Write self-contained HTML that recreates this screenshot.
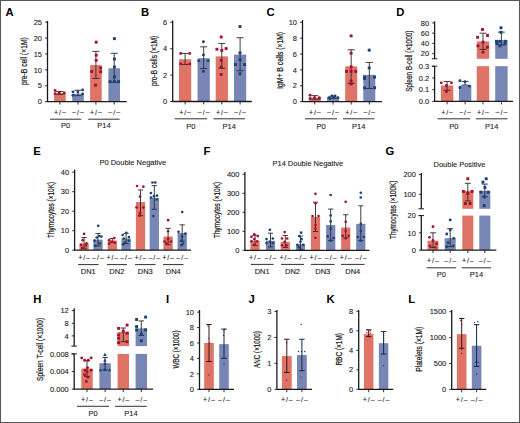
<!DOCTYPE html><html><head><meta charset="utf-8"><style>html,body{margin:0;padding:0;background:#fff;}svg{display:block;}text{font-family:"Liberation Sans", sans-serif;stroke:#1a1a1a;stroke-width:0.1px;}.pl{stroke:none;}.yt{stroke-width:0.22px;}</style></head><body>
<div id="w"><svg width="520" height="423" viewBox="0 0 520 423">
<rect x="0" y="0" width="520" height="423" fill="#fff"/>
<text x="5.6" y="15.6" font-size="11.3" text-anchor="start" font-weight="bold" fill="#000" class="pl">A</text>
<text class="yt" transform="translate(27.4,85.1) rotate(-90)" x="0" y="0" font-size="8.7" text-anchor="start" fill="#1a1a1a" textLength="47.9" lengthAdjust="spacingAndGlyphs">pre-B cell (×1M)</text>
<rect x="54.1" y="93.1" width="11.6" height="8.6" fill="#df7466"/>
<rect x="72.2" y="93.74" width="11.6" height="7.96" fill="#7786b4"/>
<rect x="90.1" y="65.08" width="11.6" height="36.62" fill="#df7466"/>
<rect x="108.4" y="68.27" width="11.6" height="33.43" fill="#7786b4"/>
<line x1="59.9" y1="91.51" x2="59.9" y2="94.38" stroke="#2a2a2a" stroke-width="0.9"/>
<line x1="56.4" y1="91.51" x2="63.4" y2="91.51" stroke="#2a2a2a" stroke-width="0.9"/>
<line x1="56.4" y1="94.38" x2="63.4" y2="94.38" stroke="#2a2a2a" stroke-width="0.9"/>
<circle cx="55.1" cy="90.56" r="1.45" fill="#a5102f"/>
<circle cx="55.1" cy="93.74" r="1.45" fill="#a5102f"/>
<circle cx="59.1" cy="92.63" r="1.45" fill="#a5102f"/>
<circle cx="64.3" cy="92.94" r="1.45" fill="#a5102f"/>
<line x1="78" y1="90.24" x2="78" y2="95.65" stroke="#2a2a2a" stroke-width="0.9"/>
<line x1="74.5" y1="90.24" x2="81.5" y2="90.24" stroke="#2a2a2a" stroke-width="0.9"/>
<line x1="74.5" y1="95.65" x2="81.5" y2="95.65" stroke="#2a2a2a" stroke-width="0.9"/>
<circle cx="73" cy="91.83" r="1.45" fill="#1a4274"/>
<circle cx="77.9" cy="91.83" r="1.45" fill="#1a4274"/>
<circle cx="82.6" cy="89.92" r="1.45" fill="#1a4274"/>
<circle cx="82.6" cy="93.9" r="1.45" fill="#1a4274"/>
<circle cx="73" cy="95.33" r="1.45" fill="#1a4274"/>
<line x1="95.9" y1="51.39" x2="95.9" y2="78.46" stroke="#2a2a2a" stroke-width="0.9"/>
<line x1="92.4" y1="51.39" x2="99.4" y2="51.39" stroke="#2a2a2a" stroke-width="0.9"/>
<line x1="92.4" y1="78.46" x2="99.4" y2="78.46" stroke="#2a2a2a" stroke-width="0.9"/>
<rect x="94.75" y="40.71" width="2.9" height="2.9" fill="#a5102f"/>
<rect x="94.75" y="53.76" width="2.9" height="2.9" fill="#a5102f"/>
<rect x="94.75" y="58.86" width="2.9" height="2.9" fill="#a5102f"/>
<rect x="99.25" y="66.5" width="2.9" height="2.9" fill="#a5102f"/>
<rect x="90.25" y="70" width="2.9" height="2.9" fill="#a5102f"/>
<rect x="99.25" y="70.32" width="2.9" height="2.9" fill="#a5102f"/>
<rect x="94.05" y="83.69" width="2.9" height="2.9" fill="#a5102f"/>
<line x1="114.2" y1="53.3" x2="114.2" y2="82.28" stroke="#2a2a2a" stroke-width="0.9"/>
<line x1="110.7" y1="53.3" x2="117.7" y2="53.3" stroke="#2a2a2a" stroke-width="0.9"/>
<line x1="110.7" y1="82.28" x2="117.7" y2="82.28" stroke="#2a2a2a" stroke-width="0.9"/>
<rect x="112.95" y="37.21" width="2.9" height="2.9" fill="#1a4274"/>
<rect x="112.95" y="57.58" width="2.9" height="2.9" fill="#1a4274"/>
<rect x="112.95" y="65.54" width="2.9" height="2.9" fill="#1a4274"/>
<rect x="112.95" y="75.41" width="2.9" height="2.9" fill="#1a4274"/>
<rect x="108.65" y="80.19" width="2.9" height="2.9" fill="#1a4274"/>
<rect x="112.95" y="80.19" width="2.9" height="2.9" fill="#1a4274"/>
<rect x="117.15" y="80.19" width="2.9" height="2.9" fill="#1a4274"/>
<line x1="47.5" y1="20.8" x2="47.5" y2="101.7" stroke="#1a1a1a" stroke-width="1.3"/>
<line x1="45.1" y1="101.7" x2="47.5" y2="101.7" stroke="#1a1a1a" stroke-width="0.9"/>
<text x="42" y="104.38" font-size="7.45" text-anchor="end" font-weight="normal" fill="#1a1a1a">0</text>
<line x1="45.1" y1="85.78" x2="47.5" y2="85.78" stroke="#1a1a1a" stroke-width="0.9"/>
<text x="42" y="88.46" font-size="7.45" text-anchor="end" font-weight="normal" fill="#1a1a1a">5</text>
<line x1="45.1" y1="69.86" x2="47.5" y2="69.86" stroke="#1a1a1a" stroke-width="0.9"/>
<text x="42" y="72.54" font-size="7.45" text-anchor="end" font-weight="normal" fill="#1a1a1a">10</text>
<line x1="45.1" y1="53.94" x2="47.5" y2="53.94" stroke="#1a1a1a" stroke-width="0.9"/>
<text x="42" y="56.62" font-size="7.45" text-anchor="end" font-weight="normal" fill="#1a1a1a">15</text>
<line x1="45.1" y1="38.02" x2="47.5" y2="38.02" stroke="#1a1a1a" stroke-width="0.9"/>
<text x="42" y="40.7" font-size="7.45" text-anchor="end" font-weight="normal" fill="#1a1a1a">20</text>
<line x1="45.1" y1="22.1" x2="47.5" y2="22.1" stroke="#1a1a1a" stroke-width="0.9"/>
<text x="42" y="24.78" font-size="7.45" text-anchor="end" font-weight="normal" fill="#1a1a1a">25</text>
<line x1="46.95" y1="101.7" x2="126.7" y2="101.7" stroke="#1a1a1a" stroke-width="1.3"/>
<line x1="59.9" y1="101.7" x2="59.9" y2="104.6" stroke="#1a1a1a" stroke-width="0.9"/>
<text x="54" y="114.7" font-size="7" text-anchor="start" font-weight="normal" fill="#1a1a1a" textLength="11.8" lengthAdjust="spacing">+/<tspan dy="-0.6">–</tspan></text>
<line x1="78" y1="101.7" x2="78" y2="104.6" stroke="#1a1a1a" stroke-width="0.9"/>
<text x="72.1" y="114.7" font-size="7" text-anchor="start" font-weight="normal" fill="#1a1a1a" textLength="11.8" lengthAdjust="spacing"><tspan dy="-0.6">–</tspan><tspan dy="0.6">/</tspan><tspan dy="-0.6">–</tspan></text>
<line x1="95.9" y1="101.7" x2="95.9" y2="104.6" stroke="#1a1a1a" stroke-width="0.9"/>
<text x="90" y="114.7" font-size="7" text-anchor="start" font-weight="normal" fill="#1a1a1a" textLength="11.8" lengthAdjust="spacing">+/<tspan dy="-0.6">–</tspan></text>
<line x1="114.2" y1="101.7" x2="114.2" y2="104.6" stroke="#1a1a1a" stroke-width="0.9"/>
<text x="108.3" y="114.7" font-size="7" text-anchor="start" font-weight="normal" fill="#1a1a1a" textLength="11.8" lengthAdjust="spacing"><tspan dy="-0.6">–</tspan><tspan dy="0.6">/</tspan><tspan dy="-0.6">–</tspan></text>
<line x1="50" y1="119.2" x2="81.3" y2="119.2" stroke="#1a1a1a" stroke-width="0.9"/>
<text x="65.65" y="128.4" font-size="7.5" text-anchor="middle" font-weight="normal" fill="#1a1a1a">P0</text>
<line x1="88.2" y1="119.2" x2="119.6" y2="119.2" stroke="#1a1a1a" stroke-width="0.9"/>
<text x="103.9" y="128.4" font-size="7.5" text-anchor="middle" font-weight="normal" fill="#1a1a1a">P14</text>
<text x="141" y="15.7" font-size="11.3" text-anchor="start" font-weight="bold" fill="#000" class="pl">B</text>
<text class="yt" transform="translate(156.9,86) rotate(-90)" x="0" y="0" font-size="8.7" text-anchor="start" fill="#1a1a1a" textLength="50.2" lengthAdjust="spacingAndGlyphs">pro-B cells (×1M)</text>
<rect x="179" y="59.26" width="12.2" height="42.24" fill="#df7466"/>
<rect x="197.6" y="58.2" width="12.2" height="43.3" fill="#7786b4"/>
<rect x="215.7" y="56.36" width="12.2" height="45.14" fill="#df7466"/>
<rect x="234" y="54.64" width="12.2" height="46.86" fill="#7786b4"/>
<line x1="185.1" y1="53.45" x2="185.1" y2="64.41" stroke="#2a2a2a" stroke-width="0.9"/>
<line x1="181.6" y1="53.45" x2="188.6" y2="53.45" stroke="#2a2a2a" stroke-width="0.9"/>
<line x1="181.6" y1="64.41" x2="188.6" y2="64.41" stroke="#2a2a2a" stroke-width="0.9"/>
<circle cx="180.7" cy="53.45" r="1.45" fill="#a5102f"/>
<circle cx="189.7" cy="53.45" r="1.45" fill="#a5102f"/>
<circle cx="180.7" cy="63.88" r="1.45" fill="#a5102f"/>
<circle cx="189.7" cy="63.88" r="1.45" fill="#a5102f"/>
<line x1="203.7" y1="46.85" x2="203.7" y2="68.63" stroke="#2a2a2a" stroke-width="0.9"/>
<line x1="200.2" y1="46.85" x2="207.2" y2="46.85" stroke="#2a2a2a" stroke-width="0.9"/>
<line x1="200.2" y1="68.63" x2="207.2" y2="68.63" stroke="#2a2a2a" stroke-width="0.9"/>
<circle cx="203.4" cy="41.7" r="1.45" fill="#1a4274"/>
<circle cx="203.4" cy="54.9" r="1.45" fill="#1a4274"/>
<circle cx="198.7" cy="60.84" r="1.45" fill="#1a4274"/>
<circle cx="208.1" cy="60.84" r="1.45" fill="#1a4274"/>
<circle cx="203.4" cy="71.4" r="1.45" fill="#1a4274"/>
<line x1="221.8" y1="43.42" x2="221.8" y2="68.24" stroke="#2a2a2a" stroke-width="0.9"/>
<line x1="218.3" y1="43.42" x2="225.3" y2="43.42" stroke="#2a2a2a" stroke-width="0.9"/>
<line x1="218.3" y1="68.24" x2="225.3" y2="68.24" stroke="#2a2a2a" stroke-width="0.9"/>
<rect x="219.75" y="35.5" width="2.9" height="2.9" fill="#a5102f"/>
<rect x="215.45" y="47.78" width="2.9" height="2.9" fill="#a5102f"/>
<rect x="224.65" y="47.12" width="2.9" height="2.9" fill="#a5102f"/>
<rect x="220.35" y="48.97" width="2.9" height="2.9" fill="#a5102f"/>
<rect x="219.75" y="58.87" width="2.9" height="2.9" fill="#a5102f"/>
<rect x="219.75" y="65.6" width="2.9" height="2.9" fill="#a5102f"/>
<rect x="219.75" y="72.99" width="2.9" height="2.9" fill="#a5102f"/>
<line x1="240.1" y1="37.74" x2="240.1" y2="70.74" stroke="#2a2a2a" stroke-width="0.9"/>
<line x1="236.6" y1="37.74" x2="243.6" y2="37.74" stroke="#2a2a2a" stroke-width="0.9"/>
<line x1="236.6" y1="70.74" x2="243.6" y2="70.74" stroke="#2a2a2a" stroke-width="0.9"/>
<rect x="238.55" y="25.07" width="2.9" height="2.9" fill="#1a4274"/>
<rect x="238.55" y="51.47" width="2.9" height="2.9" fill="#1a4274"/>
<rect x="233.95" y="63.09" width="2.9" height="2.9" fill="#1a4274"/>
<rect x="243.15" y="63.09" width="2.9" height="2.9" fill="#1a4274"/>
<rect x="238.55" y="58.21" width="2.9" height="2.9" fill="#1a4274"/>
<rect x="238.55" y="72.33" width="2.9" height="2.9" fill="#1a4274"/>
<line x1="172.7" y1="20.6" x2="172.7" y2="101.5" stroke="#1a1a1a" stroke-width="1.3"/>
<line x1="170.3" y1="101.5" x2="172.7" y2="101.5" stroke="#1a1a1a" stroke-width="0.9"/>
<text x="167.2" y="104.18" font-size="7.45" text-anchor="end" font-weight="normal" fill="#1a1a1a">0</text>
<line x1="170.3" y1="75.1" x2="172.7" y2="75.1" stroke="#1a1a1a" stroke-width="0.9"/>
<text x="167.2" y="77.78" font-size="7.45" text-anchor="end" font-weight="normal" fill="#1a1a1a">2</text>
<line x1="170.3" y1="48.7" x2="172.7" y2="48.7" stroke="#1a1a1a" stroke-width="0.9"/>
<text x="167.2" y="51.38" font-size="7.45" text-anchor="end" font-weight="normal" fill="#1a1a1a">4</text>
<line x1="170.3" y1="22.3" x2="172.7" y2="22.3" stroke="#1a1a1a" stroke-width="0.9"/>
<text x="167.2" y="24.98" font-size="7.45" text-anchor="end" font-weight="normal" fill="#1a1a1a">6</text>
<line x1="172.15" y1="101.5" x2="251.8" y2="101.5" stroke="#1a1a1a" stroke-width="1.3"/>
<line x1="185.1" y1="101.5" x2="185.1" y2="104.4" stroke="#1a1a1a" stroke-width="0.9"/>
<text x="179.2" y="114.7" font-size="7" text-anchor="start" font-weight="normal" fill="#1a1a1a" textLength="11.8" lengthAdjust="spacing">+/<tspan dy="-0.6">–</tspan></text>
<line x1="203.7" y1="101.5" x2="203.7" y2="104.4" stroke="#1a1a1a" stroke-width="0.9"/>
<text x="197.8" y="114.7" font-size="7" text-anchor="start" font-weight="normal" fill="#1a1a1a" textLength="11.8" lengthAdjust="spacing"><tspan dy="-0.6">–</tspan><tspan dy="0.6">/</tspan><tspan dy="-0.6">–</tspan></text>
<line x1="221.8" y1="101.5" x2="221.8" y2="104.4" stroke="#1a1a1a" stroke-width="0.9"/>
<text x="215.9" y="114.7" font-size="7" text-anchor="start" font-weight="normal" fill="#1a1a1a" textLength="11.8" lengthAdjust="spacing">+/<tspan dy="-0.6">–</tspan></text>
<line x1="240.1" y1="101.5" x2="240.1" y2="104.4" stroke="#1a1a1a" stroke-width="0.9"/>
<text x="234.2" y="114.7" font-size="7" text-anchor="start" font-weight="normal" fill="#1a1a1a" textLength="11.8" lengthAdjust="spacing"><tspan dy="-0.6">–</tspan><tspan dy="0.6">/</tspan><tspan dy="-0.6">–</tspan></text>
<line x1="174.7" y1="118.8" x2="207.2" y2="118.8" stroke="#1a1a1a" stroke-width="0.9"/>
<text x="190.95" y="128.6" font-size="7.5" text-anchor="middle" font-weight="normal" fill="#1a1a1a">P0</text>
<line x1="213.6" y1="118.8" x2="244.9" y2="118.8" stroke="#1a1a1a" stroke-width="0.9"/>
<text x="229.25" y="128.6" font-size="7.5" text-anchor="middle" font-weight="normal" fill="#1a1a1a">P14</text>
<text x="266.6" y="15.7" font-size="11.3" text-anchor="start" font-weight="bold" fill="#000" class="pl">C</text>
<text class="yt" transform="translate(282.7,88.8) rotate(-90)" x="0" y="0" font-size="8.7" text-anchor="start" fill="#1a1a1a" textLength="56.9" lengthAdjust="spacingAndGlyphs">IgM+ B cells (×1M)</text>
<rect x="308.8" y="97.79" width="12" height="3.81" fill="#df7466"/>
<rect x="327" y="97.24" width="12" height="4.36" fill="#7786b4"/>
<rect x="345.2" y="66.39" width="12" height="35.21" fill="#df7466"/>
<rect x="363.3" y="74.8" width="12" height="26.8" fill="#7786b4"/>
<line x1="314.8" y1="95.65" x2="314.8" y2="99.22" stroke="#2a2a2a" stroke-width="0.9"/>
<line x1="311.3" y1="95.65" x2="318.3" y2="95.65" stroke="#2a2a2a" stroke-width="0.9"/>
<line x1="311.3" y1="99.22" x2="318.3" y2="99.22" stroke="#2a2a2a" stroke-width="0.9"/>
<circle cx="310.1" cy="95.18" r="1.45" fill="#a5102f"/>
<circle cx="310.1" cy="98.51" r="1.45" fill="#a5102f"/>
<circle cx="314.5" cy="97.79" r="1.45" fill="#a5102f"/>
<circle cx="319.3" cy="98.51" r="1.45" fill="#a5102f"/>
<circle cx="319.3" cy="97.63" r="1.45" fill="#a5102f"/>
<line x1="333" y1="96.21" x2="333" y2="98.27" stroke="#2a2a2a" stroke-width="0.9"/>
<line x1="329.5" y1="96.21" x2="336.5" y2="96.21" stroke="#2a2a2a" stroke-width="0.9"/>
<line x1="329.5" y1="98.27" x2="336.5" y2="98.27" stroke="#2a2a2a" stroke-width="0.9"/>
<circle cx="329" cy="97.79" r="1.45" fill="#1a4274"/>
<circle cx="332" cy="95.89" r="1.45" fill="#1a4274"/>
<circle cx="335" cy="95.89" r="1.45" fill="#1a4274"/>
<circle cx="338" cy="97.79" r="1.45" fill="#1a4274"/>
<circle cx="330" cy="98.43" r="1.45" fill="#1a4274"/>
<circle cx="334" cy="97.63" r="1.45" fill="#1a4274"/>
<line x1="351.2" y1="49.82" x2="351.2" y2="83.36" stroke="#2a2a2a" stroke-width="0.9"/>
<line x1="347.7" y1="49.82" x2="354.7" y2="49.82" stroke="#2a2a2a" stroke-width="0.9"/>
<line x1="347.7" y1="83.36" x2="354.7" y2="83.36" stroke="#2a2a2a" stroke-width="0.9"/>
<rect x="349.65" y="34.41" width="2.9" height="2.9" fill="#a5102f"/>
<rect x="349.65" y="51.78" width="2.9" height="2.9" fill="#a5102f"/>
<rect x="349.65" y="65.34" width="2.9" height="2.9" fill="#a5102f"/>
<rect x="345.05" y="69.94" width="2.9" height="2.9" fill="#a5102f"/>
<rect x="354.25" y="69.94" width="2.9" height="2.9" fill="#a5102f"/>
<rect x="349.65" y="69.94" width="2.9" height="2.9" fill="#a5102f"/>
<rect x="349.65" y="79.61" width="2.9" height="2.9" fill="#a5102f"/>
<rect x="349.65" y="82.55" width="2.9" height="2.9" fill="#a5102f"/>
<line x1="369.3" y1="62.43" x2="369.3" y2="88.44" stroke="#2a2a2a" stroke-width="0.9"/>
<line x1="365.8" y1="62.43" x2="372.8" y2="62.43" stroke="#2a2a2a" stroke-width="0.9"/>
<line x1="365.8" y1="88.44" x2="372.8" y2="88.44" stroke="#2a2a2a" stroke-width="0.9"/>
<rect x="367.75" y="48.68" width="2.9" height="2.9" fill="#1a4274"/>
<rect x="367.75" y="66.45" width="2.9" height="2.9" fill="#1a4274"/>
<rect x="363.15" y="75.65" width="2.9" height="2.9" fill="#1a4274"/>
<rect x="373.15" y="75.65" width="2.9" height="2.9" fill="#1a4274"/>
<rect x="363.15" y="77.15" width="2.9" height="2.9" fill="#1a4274"/>
<rect x="363.15" y="86.51" width="2.9" height="2.9" fill="#1a4274"/>
<rect x="373.15" y="86.27" width="2.9" height="2.9" fill="#1a4274"/>
<line x1="302.5" y1="20.1" x2="302.5" y2="101.6" stroke="#1a1a1a" stroke-width="1.3"/>
<line x1="300.1" y1="101.6" x2="302.5" y2="101.6" stroke="#1a1a1a" stroke-width="0.9"/>
<text x="297" y="104.28" font-size="7.45" text-anchor="end" font-weight="normal" fill="#1a1a1a">0</text>
<line x1="300.1" y1="85.74" x2="302.5" y2="85.74" stroke="#1a1a1a" stroke-width="0.9"/>
<text x="297" y="88.42" font-size="7.45" text-anchor="end" font-weight="normal" fill="#1a1a1a">2</text>
<line x1="300.1" y1="69.88" x2="302.5" y2="69.88" stroke="#1a1a1a" stroke-width="0.9"/>
<text x="297" y="72.56" font-size="7.45" text-anchor="end" font-weight="normal" fill="#1a1a1a">4</text>
<line x1="300.1" y1="54.02" x2="302.5" y2="54.02" stroke="#1a1a1a" stroke-width="0.9"/>
<text x="297" y="56.7" font-size="7.45" text-anchor="end" font-weight="normal" fill="#1a1a1a">6</text>
<line x1="300.1" y1="38.16" x2="302.5" y2="38.16" stroke="#1a1a1a" stroke-width="0.9"/>
<text x="297" y="40.84" font-size="7.45" text-anchor="end" font-weight="normal" fill="#1a1a1a">8</text>
<line x1="300.1" y1="22.3" x2="302.5" y2="22.3" stroke="#1a1a1a" stroke-width="0.9"/>
<text x="297" y="24.98" font-size="7.45" text-anchor="end" font-weight="normal" fill="#1a1a1a">10</text>
<line x1="301.95" y1="101.6" x2="381.9" y2="101.6" stroke="#1a1a1a" stroke-width="1.3"/>
<line x1="314.8" y1="101.6" x2="314.8" y2="104.5" stroke="#1a1a1a" stroke-width="0.9"/>
<text x="308.9" y="114.7" font-size="7" text-anchor="start" font-weight="normal" fill="#1a1a1a" textLength="11.8" lengthAdjust="spacing">+/<tspan dy="-0.6">–</tspan></text>
<line x1="333" y1="101.6" x2="333" y2="104.5" stroke="#1a1a1a" stroke-width="0.9"/>
<text x="327.1" y="114.7" font-size="7" text-anchor="start" font-weight="normal" fill="#1a1a1a" textLength="11.8" lengthAdjust="spacing"><tspan dy="-0.6">–</tspan><tspan dy="0.6">/</tspan><tspan dy="-0.6">–</tspan></text>
<line x1="351.2" y1="101.6" x2="351.2" y2="104.5" stroke="#1a1a1a" stroke-width="0.9"/>
<text x="345.3" y="114.7" font-size="7" text-anchor="start" font-weight="normal" fill="#1a1a1a" textLength="11.8" lengthAdjust="spacing">+/<tspan dy="-0.6">–</tspan></text>
<line x1="369.3" y1="101.6" x2="369.3" y2="104.5" stroke="#1a1a1a" stroke-width="0.9"/>
<text x="363.4" y="114.7" font-size="7" text-anchor="start" font-weight="normal" fill="#1a1a1a" textLength="11.8" lengthAdjust="spacing"><tspan dy="-0.6">–</tspan><tspan dy="0.6">/</tspan><tspan dy="-0.6">–</tspan></text>
<line x1="305" y1="118.8" x2="337" y2="118.8" stroke="#1a1a1a" stroke-width="0.9"/>
<text x="321" y="128.6" font-size="7.5" text-anchor="middle" font-weight="normal" fill="#1a1a1a">P0</text>
<line x1="343" y1="118.8" x2="374.5" y2="118.8" stroke="#1a1a1a" stroke-width="0.9"/>
<text x="358.75" y="128.6" font-size="7.5" text-anchor="middle" font-weight="normal" fill="#1a1a1a">P14</text>
<text x="396.3" y="15.5" font-size="11.3" text-anchor="start" font-weight="bold" fill="#000" class="pl">D</text>
<text class="yt" transform="translate(411.5,91.8) rotate(-90)" x="0" y="0" font-size="8.7" text-anchor="start" fill="#1a1a1a" textLength="61.1" lengthAdjust="spacingAndGlyphs">Spleen B-cell (×1000)</text>
<rect x="440.9" y="85.44" width="12.4" height="15.96" fill="#df7466"/>
<rect x="458.9" y="85.56" width="12.4" height="15.84" fill="#7786b4"/>
<rect x="476.8" y="41.42" width="12.4" height="17.38" fill="#df7466"/>
<rect x="476.8" y="66.2" width="12.4" height="35.2" fill="#df7466"/>
<rect x="495.2" y="39.99" width="12.4" height="18.81" fill="#7786b4"/>
<rect x="495.2" y="66.2" width="12.4" height="35.2" fill="#7786b4"/>
<line x1="447.1" y1="81.45" x2="447.1" y2="90.25" stroke="#2a2a2a" stroke-width="0.9"/>
<line x1="443.6" y1="81.45" x2="450.6" y2="81.45" stroke="#2a2a2a" stroke-width="0.9"/>
<line x1="443.6" y1="90.25" x2="450.6" y2="90.25" stroke="#2a2a2a" stroke-width="0.9"/>
<line x1="465.1" y1="81.45" x2="465.1" y2="85.09" stroke="#2a2a2a" stroke-width="0.9"/>
<line x1="461.6" y1="81.45" x2="468.6" y2="81.45" stroke="#2a2a2a" stroke-width="0.9"/>
<line x1="461.6" y1="85.09" x2="468.6" y2="85.09" stroke="#2a2a2a" stroke-width="0.9"/>
<line x1="483" y1="33.18" x2="483" y2="49.4" stroke="#2a2a2a" stroke-width="0.9"/>
<line x1="479.5" y1="33.18" x2="486.5" y2="33.18" stroke="#2a2a2a" stroke-width="0.9"/>
<line x1="479.5" y1="49.4" x2="486.5" y2="49.4" stroke="#2a2a2a" stroke-width="0.9"/>
<line x1="501.4" y1="32.11" x2="501.4" y2="45" stroke="#2a2a2a" stroke-width="0.9"/>
<line x1="497.9" y1="32.11" x2="504.9" y2="32.11" stroke="#2a2a2a" stroke-width="0.9"/>
<line x1="497.9" y1="45" x2="504.9" y2="45" stroke="#2a2a2a" stroke-width="0.9"/>
<circle cx="441.3" cy="82.86" r="1.45" fill="#a5102f"/>
<circle cx="451.5" cy="82.86" r="1.45" fill="#a5102f"/>
<circle cx="446.4" cy="85.44" r="1.45" fill="#a5102f"/>
<circle cx="446.4" cy="91.66" r="1.45" fill="#a5102f"/>
<circle cx="459.9" cy="80.75" r="1.45" fill="#1a4274"/>
<circle cx="465" cy="81.81" r="1.45" fill="#1a4274"/>
<circle cx="459.9" cy="87.67" r="1.45" fill="#1a4274"/>
<circle cx="469.4" cy="86.15" r="1.45" fill="#1a4274"/>
<rect x="481.05" y="28" width="2.9" height="2.9" fill="#a5102f"/>
<rect x="476.15" y="35.83" width="2.9" height="2.9" fill="#a5102f"/>
<rect x="486.05" y="34.04" width="2.9" height="2.9" fill="#a5102f"/>
<rect x="481.55" y="40.74" width="2.9" height="2.9" fill="#a5102f"/>
<rect x="476.55" y="44.37" width="2.9" height="2.9" fill="#a5102f"/>
<rect x="486.05" y="45.75" width="2.9" height="2.9" fill="#a5102f"/>
<rect x="481.55" y="50.67" width="2.9" height="2.9" fill="#a5102f"/>
<rect x="499.55" y="26.36" width="2.9" height="2.9" fill="#1a4274"/>
<rect x="499.55" y="30.86" width="2.9" height="2.9" fill="#1a4274"/>
<rect x="495.05" y="39.87" width="2.9" height="2.9" fill="#1a4274"/>
<rect x="498.55" y="39.87" width="2.9" height="2.9" fill="#1a4274"/>
<rect x="503.95" y="39.87" width="2.9" height="2.9" fill="#1a4274"/>
<rect x="495.55" y="42.17" width="2.9" height="2.9" fill="#1a4274"/>
<rect x="503.55" y="42.17" width="2.9" height="2.9" fill="#1a4274"/>
<rect x="498.55" y="44.37" width="2.9" height="2.9" fill="#1a4274"/>
<line x1="434.6" y1="21.3" x2="434.6" y2="58.8" stroke="#1a1a1a" stroke-width="1.3"/>
<line x1="434.6" y1="66.2" x2="434.6" y2="101.4" stroke="#1a1a1a" stroke-width="1.3"/>
<line x1="431.8" y1="58.8" x2="437.3" y2="58.8" stroke="#1a1a1a" stroke-width="1"/>
<line x1="431.8" y1="66.2" x2="437.3" y2="66.2" stroke="#1a1a1a" stroke-width="1"/>
<line x1="432.2" y1="53.6" x2="434.6" y2="53.6" stroke="#1a1a1a" stroke-width="0.9"/>
<text x="429.1" y="56.28" font-size="7.45" text-anchor="end" font-weight="normal" fill="#1a1a1a">20</text>
<line x1="432.2" y1="43.37" x2="434.6" y2="43.37" stroke="#1a1a1a" stroke-width="0.9"/>
<text x="429.1" y="46.05" font-size="7.45" text-anchor="end" font-weight="normal" fill="#1a1a1a">40</text>
<line x1="432.2" y1="33.13" x2="434.6" y2="33.13" stroke="#1a1a1a" stroke-width="0.9"/>
<text x="429.1" y="35.82" font-size="7.45" text-anchor="end" font-weight="normal" fill="#1a1a1a">60</text>
<line x1="432.2" y1="22.9" x2="434.6" y2="22.9" stroke="#1a1a1a" stroke-width="0.9"/>
<text x="429.1" y="25.58" font-size="7.45" text-anchor="end" font-weight="normal" fill="#1a1a1a">80</text>
<line x1="432.2" y1="101.4" x2="434.6" y2="101.4" stroke="#1a1a1a" stroke-width="0.9"/>
<text x="429.1" y="104.08" font-size="7.45" text-anchor="end" font-weight="normal" fill="#1a1a1a">0.0</text>
<line x1="432.2" y1="89.67" x2="434.6" y2="89.67" stroke="#1a1a1a" stroke-width="0.9"/>
<text x="429.1" y="92.35" font-size="7.45" text-anchor="end" font-weight="normal" fill="#1a1a1a">0.1</text>
<line x1="432.2" y1="77.93" x2="434.6" y2="77.93" stroke="#1a1a1a" stroke-width="0.9"/>
<text x="429.1" y="80.62" font-size="7.45" text-anchor="end" font-weight="normal" fill="#1a1a1a">0.2</text>
<line x1="432.2" y1="66.2" x2="434.6" y2="66.2" stroke="#1a1a1a" stroke-width="0.9"/>
<text x="429.1" y="68.88" font-size="7.45" text-anchor="end" font-weight="normal" fill="#1a1a1a">0.3</text>
<line x1="434.05" y1="101.4" x2="513.1" y2="101.4" stroke="#1a1a1a" stroke-width="1.3"/>
<line x1="447.1" y1="101.4" x2="447.1" y2="104.3" stroke="#1a1a1a" stroke-width="0.9"/>
<text x="441.2" y="114.7" font-size="7" text-anchor="start" font-weight="normal" fill="#1a1a1a" textLength="11.8" lengthAdjust="spacing">+/<tspan dy="-0.6">–</tspan></text>
<line x1="465.1" y1="101.4" x2="465.1" y2="104.3" stroke="#1a1a1a" stroke-width="0.9"/>
<text x="459.2" y="114.7" font-size="7" text-anchor="start" font-weight="normal" fill="#1a1a1a" textLength="11.8" lengthAdjust="spacing"><tspan dy="-0.6">–</tspan><tspan dy="0.6">/</tspan><tspan dy="-0.6">–</tspan></text>
<line x1="483" y1="101.4" x2="483" y2="104.3" stroke="#1a1a1a" stroke-width="0.9"/>
<text x="477.1" y="114.7" font-size="7" text-anchor="start" font-weight="normal" fill="#1a1a1a" textLength="11.8" lengthAdjust="spacing">+/<tspan dy="-0.6">–</tspan></text>
<line x1="501.4" y1="101.4" x2="501.4" y2="104.3" stroke="#1a1a1a" stroke-width="0.9"/>
<text x="495.5" y="114.7" font-size="7" text-anchor="start" font-weight="normal" fill="#1a1a1a" textLength="11.8" lengthAdjust="spacing"><tspan dy="-0.6">–</tspan><tspan dy="0.6">/</tspan><tspan dy="-0.6">–</tspan></text>
<line x1="437.5" y1="118.8" x2="470" y2="118.8" stroke="#1a1a1a" stroke-width="0.9"/>
<text x="453.75" y="128.6" font-size="7.5" text-anchor="middle" font-weight="normal" fill="#1a1a1a">P0</text>
<line x1="476" y1="118.8" x2="507.5" y2="118.8" stroke="#1a1a1a" stroke-width="0.9"/>
<text x="491.75" y="128.6" font-size="7.5" text-anchor="middle" font-weight="normal" fill="#1a1a1a">P14</text>
<text x="33.2" y="155" font-size="11.3" text-anchor="start" font-weight="bold" fill="#000" class="pl">E</text>
<text x="99.4" y="164.6" font-size="7.4" text-anchor="start" font-weight="normal" fill="#1a1a1a" textLength="66.8" lengthAdjust="spacingAndGlyphs">P0 Double Negative</text>
<text class="yt" transform="translate(54.3,237.9) rotate(-90)" x="0" y="0" font-size="8.7" text-anchor="start" fill="#1a1a1a" textLength="56" lengthAdjust="spacingAndGlyphs">Thymocytes (×10K)</text>
<rect x="79.45" y="243.38" width="9.3" height="6.82" fill="#df7466"/>
<rect x="93.35" y="239.67" width="9.3" height="10.53" fill="#7786b4"/>
<rect x="107.65" y="240.45" width="9.3" height="9.75" fill="#df7466"/>
<rect x="121.45" y="238.5" width="9.3" height="11.7" fill="#7786b4"/>
<rect x="135.85" y="202.03" width="9.3" height="48.16" fill="#df7466"/>
<rect x="149.65" y="197.94" width="9.3" height="52.26" fill="#7786b4"/>
<rect x="163.45" y="236.55" width="9.3" height="13.65" fill="#df7466"/>
<rect x="177.55" y="233.04" width="9.3" height="17.16" fill="#7786b4"/>
<line x1="84.1" y1="237.52" x2="84.1" y2="248.25" stroke="#2a2a2a" stroke-width="0.9"/>
<line x1="81.5" y1="237.52" x2="86.7" y2="237.52" stroke="#2a2a2a" stroke-width="0.9"/>
<line x1="81.5" y1="248.25" x2="86.7" y2="248.25" stroke="#2a2a2a" stroke-width="0.9"/>
<circle cx="84.1" cy="233.92" r="1.33" fill="#a5102f"/>
<circle cx="82.7" cy="240.16" r="1.33" fill="#a5102f"/>
<circle cx="81.1" cy="244.88" r="1.33" fill="#a5102f"/>
<circle cx="85.8" cy="245.38" r="1.33" fill="#a5102f"/>
<circle cx="82.2" cy="248" r="1.33" fill="#a5102f"/>
<circle cx="86.6" cy="243.38" r="1.33" fill="#a5102f"/>
<line x1="98" y1="233.43" x2="98" y2="245.91" stroke="#2a2a2a" stroke-width="0.9"/>
<line x1="95.4" y1="233.43" x2="100.6" y2="233.43" stroke="#2a2a2a" stroke-width="0.9"/>
<line x1="95.4" y1="245.91" x2="100.6" y2="245.91" stroke="#2a2a2a" stroke-width="0.9"/>
<circle cx="98.2" cy="225.82" r="1.33" fill="#1a4274"/>
<circle cx="99.3" cy="236.02" r="1.33" fill="#1a4274"/>
<circle cx="96.7" cy="237.52" r="1.33" fill="#1a4274"/>
<circle cx="101.4" cy="236.55" r="1.33" fill="#1a4274"/>
<circle cx="94.6" cy="240.64" r="1.33" fill="#1a4274"/>
<circle cx="99.8" cy="243.26" r="1.33" fill="#1a4274"/>
<circle cx="95.1" cy="245.91" r="1.33" fill="#1a4274"/>
<line x1="112.3" y1="238.5" x2="112.3" y2="242.4" stroke="#2a2a2a" stroke-width="0.9"/>
<line x1="109.7" y1="238.5" x2="114.9" y2="238.5" stroke="#2a2a2a" stroke-width="0.9"/>
<line x1="109.7" y1="242.4" x2="114.9" y2="242.4" stroke="#2a2a2a" stroke-width="0.9"/>
<circle cx="109.2" cy="240.16" r="1.33" fill="#a5102f"/>
<circle cx="114.3" cy="238.11" r="1.33" fill="#a5102f"/>
<circle cx="112.3" cy="241.81" r="1.33" fill="#a5102f"/>
<circle cx="109.2" cy="243.76" r="1.33" fill="#a5102f"/>
<circle cx="114.9" cy="242.79" r="1.33" fill="#a5102f"/>
<line x1="126.1" y1="233.43" x2="126.1" y2="243.57" stroke="#2a2a2a" stroke-width="0.9"/>
<line x1="123.5" y1="233.43" x2="128.7" y2="233.43" stroke="#2a2a2a" stroke-width="0.9"/>
<line x1="123.5" y1="243.57" x2="128.7" y2="243.57" stroke="#2a2a2a" stroke-width="0.9"/>
<circle cx="126.3" cy="232.84" r="1.33" fill="#1a4274"/>
<circle cx="122.7" cy="234.99" r="1.33" fill="#1a4274"/>
<circle cx="128.9" cy="237.04" r="1.33" fill="#1a4274"/>
<circle cx="123.7" cy="238.5" r="1.33" fill="#1a4274"/>
<circle cx="128.9" cy="240.64" r="1.33" fill="#1a4274"/>
<circle cx="124.7" cy="242.79" r="1.33" fill="#1a4274"/>
<circle cx="123.1" cy="244.35" r="1.33" fill="#1a4274"/>
<line x1="140.5" y1="189.94" x2="140.5" y2="215.69" stroke="#2a2a2a" stroke-width="0.9"/>
<line x1="137.9" y1="189.94" x2="143.1" y2="189.94" stroke="#2a2a2a" stroke-width="0.9"/>
<line x1="137.9" y1="215.69" x2="143.1" y2="215.69" stroke="#2a2a2a" stroke-width="0.9"/>
<circle cx="137" cy="186.04" r="1.33" fill="#a5102f"/>
<circle cx="143.4" cy="186.63" r="1.33" fill="#a5102f"/>
<circle cx="140" cy="196.57" r="1.33" fill="#a5102f"/>
<circle cx="136.5" cy="207.5" r="1.33" fill="#a5102f"/>
<circle cx="143.4" cy="207.5" r="1.33" fill="#a5102f"/>
<circle cx="140" cy="212.95" r="1.33" fill="#a5102f"/>
<circle cx="139.5" cy="215.69" r="1.33" fill="#a5102f"/>
<line x1="154.3" y1="185.65" x2="154.3" y2="209.25" stroke="#2a2a2a" stroke-width="0.9"/>
<line x1="151.7" y1="185.65" x2="156.9" y2="185.65" stroke="#2a2a2a" stroke-width="0.9"/>
<line x1="151.7" y1="209.25" x2="156.9" y2="209.25" stroke="#2a2a2a" stroke-width="0.9"/>
<circle cx="152.4" cy="182.53" r="1.33" fill="#1a4274"/>
<circle cx="155.3" cy="182.53" r="1.33" fill="#1a4274"/>
<circle cx="150.9" cy="193.06" r="1.33" fill="#1a4274"/>
<circle cx="151" cy="197.55" r="1.33" fill="#1a4274"/>
<circle cx="154" cy="196.19" r="1.33" fill="#1a4274"/>
<circle cx="157" cy="195.6" r="1.33" fill="#1a4274"/>
<circle cx="156.8" cy="199.5" r="1.33" fill="#1a4274"/>
<circle cx="153.4" cy="216.07" r="1.33" fill="#1a4274"/>
<line x1="168.1" y1="228.36" x2="168.1" y2="244.74" stroke="#2a2a2a" stroke-width="0.9"/>
<line x1="165.5" y1="228.36" x2="170.7" y2="228.36" stroke="#2a2a2a" stroke-width="0.9"/>
<line x1="165.5" y1="244.74" x2="170.7" y2="244.74" stroke="#2a2a2a" stroke-width="0.9"/>
<circle cx="168.1" cy="220.17" r="1.33" fill="#a5102f"/>
<circle cx="168.1" cy="231.28" r="1.33" fill="#a5102f"/>
<circle cx="168.1" cy="238.89" r="1.33" fill="#a5102f"/>
<circle cx="164.6" cy="241.62" r="1.33" fill="#a5102f"/>
<circle cx="171" cy="241.62" r="1.33" fill="#a5102f"/>
<circle cx="166.4" cy="243.47" r="1.33" fill="#a5102f"/>
<line x1="182.2" y1="224.85" x2="182.2" y2="241.23" stroke="#2a2a2a" stroke-width="0.9"/>
<line x1="179.6" y1="224.85" x2="184.8" y2="224.85" stroke="#2a2a2a" stroke-width="0.9"/>
<line x1="179.6" y1="241.23" x2="184.8" y2="241.23" stroke="#2a2a2a" stroke-width="0.9"/>
<circle cx="182.2" cy="211.98" r="1.33" fill="#1a4274"/>
<circle cx="178.5" cy="231.87" r="1.33" fill="#1a4274"/>
<circle cx="185.4" cy="233.62" r="1.33" fill="#1a4274"/>
<circle cx="182" cy="236.55" r="1.33" fill="#1a4274"/>
<circle cx="181.5" cy="240.64" r="1.33" fill="#1a4274"/>
<circle cx="183" cy="243.47" r="1.33" fill="#1a4274"/>
<circle cx="181.5" cy="245.13" r="1.33" fill="#1a4274"/>
<line x1="74.6" y1="169.6" x2="74.6" y2="250.2" stroke="#1a1a1a" stroke-width="1.3"/>
<line x1="72.2" y1="250.2" x2="74.6" y2="250.2" stroke="#1a1a1a" stroke-width="0.9"/>
<text x="69.1" y="252.88" font-size="7.45" text-anchor="end" font-weight="normal" fill="#1a1a1a">0</text>
<line x1="72.2" y1="230.7" x2="74.6" y2="230.7" stroke="#1a1a1a" stroke-width="0.9"/>
<text x="69.1" y="233.38" font-size="7.45" text-anchor="end" font-weight="normal" fill="#1a1a1a">10</text>
<line x1="72.2" y1="211.2" x2="74.6" y2="211.2" stroke="#1a1a1a" stroke-width="0.9"/>
<text x="69.1" y="213.88" font-size="7.45" text-anchor="end" font-weight="normal" fill="#1a1a1a">20</text>
<line x1="72.2" y1="191.7" x2="74.6" y2="191.7" stroke="#1a1a1a" stroke-width="0.9"/>
<text x="69.1" y="194.38" font-size="7.45" text-anchor="end" font-weight="normal" fill="#1a1a1a">30</text>
<line x1="72.2" y1="172.2" x2="74.6" y2="172.2" stroke="#1a1a1a" stroke-width="0.9"/>
<text x="69.1" y="174.88" font-size="7.45" text-anchor="end" font-weight="normal" fill="#1a1a1a">40</text>
<line x1="74.05" y1="250.2" x2="191.1" y2="250.2" stroke="#1a1a1a" stroke-width="1.3"/>
<text x="78.2" y="260.4" font-size="7" text-anchor="start" font-weight="normal" fill="#1a1a1a" textLength="11.8" lengthAdjust="spacing">+/<tspan dy="-0.6">–</tspan></text>
<text x="92.1" y="260.4" font-size="7" text-anchor="start" font-weight="normal" fill="#1a1a1a" textLength="11.8" lengthAdjust="spacing"><tspan dy="-0.6">–</tspan><tspan dy="0.6">/</tspan><tspan dy="-0.6">–</tspan></text>
<text x="106.4" y="260.4" font-size="7" text-anchor="start" font-weight="normal" fill="#1a1a1a" textLength="11.8" lengthAdjust="spacing">+/<tspan dy="-0.6">–</tspan></text>
<text x="120.2" y="260.4" font-size="7" text-anchor="start" font-weight="normal" fill="#1a1a1a" textLength="11.8" lengthAdjust="spacing"><tspan dy="-0.6">–</tspan><tspan dy="0.6">/</tspan><tspan dy="-0.6">–</tspan></text>
<text x="134.6" y="260.4" font-size="7" text-anchor="start" font-weight="normal" fill="#1a1a1a" textLength="11.8" lengthAdjust="spacing">+/<tspan dy="-0.6">–</tspan></text>
<text x="148.4" y="260.4" font-size="7" text-anchor="start" font-weight="normal" fill="#1a1a1a" textLength="11.8" lengthAdjust="spacing"><tspan dy="-0.6">–</tspan><tspan dy="0.6">/</tspan><tspan dy="-0.6">–</tspan></text>
<text x="162.2" y="260.4" font-size="7" text-anchor="start" font-weight="normal" fill="#1a1a1a" textLength="11.8" lengthAdjust="spacing">+/<tspan dy="-0.6">–</tspan></text>
<text x="176.3" y="260.4" font-size="7" text-anchor="start" font-weight="normal" fill="#1a1a1a" textLength="11.8" lengthAdjust="spacing"><tspan dy="-0.6">–</tspan><tspan dy="0.6">/</tspan><tspan dy="-0.6">–</tspan></text>
<line x1="78.1" y1="264.6" x2="98.5" y2="264.6" stroke="#1a1a1a" stroke-width="0.9"/>
<text x="88.3" y="273.7" font-size="7.5" text-anchor="middle" font-weight="normal" fill="#1a1a1a">DN1</text>
<line x1="106.8" y1="264.6" x2="126.9" y2="264.6" stroke="#1a1a1a" stroke-width="0.9"/>
<text x="116.85" y="273.7" font-size="7.5" text-anchor="middle" font-weight="normal" fill="#1a1a1a">DN2</text>
<line x1="135" y1="264.6" x2="155.5" y2="264.6" stroke="#1a1a1a" stroke-width="0.9"/>
<text x="145.25" y="273.7" font-size="7.5" text-anchor="middle" font-weight="normal" fill="#1a1a1a">DN3</text>
<line x1="163" y1="264.6" x2="183.5" y2="264.6" stroke="#1a1a1a" stroke-width="0.9"/>
<text x="173.25" y="273.7" font-size="7.5" text-anchor="middle" font-weight="normal" fill="#1a1a1a">DN4</text>
<text x="203.4" y="155" font-size="11.3" text-anchor="start" font-weight="bold" fill="#000" class="pl">F</text>
<text x="272.5" y="166" font-size="7.4" text-anchor="start" font-weight="normal" fill="#1a1a1a" textLength="70.6" lengthAdjust="spacingAndGlyphs">P14 Double Negative</text>
<text class="yt" transform="translate(220.3,237.9) rotate(-90)" x="0" y="0" font-size="8.7" text-anchor="start" fill="#1a1a1a" textLength="56" lengthAdjust="spacingAndGlyphs">Thymocytes (×10K)</text>
<rect x="250.4" y="240.8" width="9.2" height="9.5" fill="#df7466"/>
<rect x="265.9" y="240.8" width="9.2" height="9.5" fill="#7786b4"/>
<rect x="280.7" y="241.75" width="9.2" height="8.55" fill="#df7466"/>
<rect x="295.9" y="244.22" width="9.2" height="6.08" fill="#7786b4"/>
<rect x="310.9" y="217.05" width="9.2" height="33.25" fill="#df7466"/>
<rect x="326.1" y="225.03" width="9.2" height="25.27" fill="#7786b4"/>
<rect x="341.1" y="227.5" width="9.2" height="22.8" fill="#df7466"/>
<rect x="356.2" y="223.89" width="9.2" height="26.41" fill="#7786b4"/>
<line x1="255" y1="235.29" x2="255" y2="245.55" stroke="#2a2a2a" stroke-width="0.9"/>
<line x1="252.4" y1="235.29" x2="257.6" y2="235.29" stroke="#2a2a2a" stroke-width="0.9"/>
<line x1="252.4" y1="245.55" x2="257.6" y2="245.55" stroke="#2a2a2a" stroke-width="0.9"/>
<circle cx="254.3" cy="234.34" r="1.33" fill="#a5102f"/>
<circle cx="251.5" cy="236.81" r="1.33" fill="#a5102f"/>
<circle cx="257.8" cy="236.05" r="1.33" fill="#a5102f"/>
<circle cx="254.3" cy="239.09" r="1.33" fill="#a5102f"/>
<circle cx="251.5" cy="241.37" r="1.33" fill="#a5102f"/>
<circle cx="257.2" cy="241.37" r="1.33" fill="#a5102f"/>
<circle cx="254.3" cy="244.79" r="1.33" fill="#a5102f"/>
<line x1="270.5" y1="233.2" x2="270.5" y2="246.88" stroke="#2a2a2a" stroke-width="0.9"/>
<line x1="267.9" y1="233.2" x2="273.1" y2="233.2" stroke="#2a2a2a" stroke-width="0.9"/>
<line x1="267.9" y1="246.88" x2="273.1" y2="246.88" stroke="#2a2a2a" stroke-width="0.9"/>
<circle cx="269.9" cy="229.78" r="1.33" fill="#1a4274"/>
<circle cx="266.5" cy="239.09" r="1.33" fill="#1a4274"/>
<circle cx="272.8" cy="238.52" r="1.33" fill="#1a4274"/>
<circle cx="269.9" cy="241.75" r="1.33" fill="#1a4274"/>
<circle cx="266.5" cy="243.08" r="1.33" fill="#1a4274"/>
<circle cx="272.8" cy="243.08" r="1.33" fill="#1a4274"/>
<line x1="285.3" y1="235.48" x2="285.3" y2="247.45" stroke="#2a2a2a" stroke-width="0.9"/>
<line x1="282.7" y1="235.48" x2="287.9" y2="235.48" stroke="#2a2a2a" stroke-width="0.9"/>
<line x1="282.7" y1="247.45" x2="287.9" y2="247.45" stroke="#2a2a2a" stroke-width="0.9"/>
<circle cx="284.7" cy="232.06" r="1.33" fill="#a5102f"/>
<circle cx="282" cy="238.52" r="1.33" fill="#a5102f"/>
<circle cx="287.2" cy="238.52" r="1.33" fill="#a5102f"/>
<circle cx="284.7" cy="241.75" r="1.33" fill="#a5102f"/>
<circle cx="282" cy="245.36" r="1.33" fill="#a5102f"/>
<circle cx="286.6" cy="245.36" r="1.33" fill="#a5102f"/>
<line x1="300.5" y1="236.05" x2="300.5" y2="249.35" stroke="#2a2a2a" stroke-width="0.9"/>
<line x1="297.9" y1="236.05" x2="303.1" y2="236.05" stroke="#2a2a2a" stroke-width="0.9"/>
<line x1="297.9" y1="249.35" x2="303.1" y2="249.35" stroke="#2a2a2a" stroke-width="0.9"/>
<circle cx="301.1" cy="232.63" r="1.33" fill="#1a4274"/>
<circle cx="299.3" cy="236.05" r="1.33" fill="#1a4274"/>
<circle cx="301.6" cy="239.09" r="1.33" fill="#1a4274"/>
<circle cx="300.5" cy="241.75" r="1.33" fill="#1a4274"/>
<circle cx="297.5" cy="244.79" r="1.33" fill="#1a4274"/>
<circle cx="303.3" cy="244.79" r="1.33" fill="#1a4274"/>
<circle cx="298.8" cy="247.07" r="1.33" fill="#1a4274"/>
<line x1="315.5" y1="202.23" x2="315.5" y2="231.49" stroke="#2a2a2a" stroke-width="0.9"/>
<line x1="312.9" y1="202.23" x2="318.1" y2="202.23" stroke="#2a2a2a" stroke-width="0.9"/>
<line x1="312.9" y1="231.49" x2="318.1" y2="231.49" stroke="#2a2a2a" stroke-width="0.9"/>
<circle cx="315.5" cy="193.87" r="1.33" fill="#a5102f"/>
<circle cx="315.5" cy="203.37" r="1.33" fill="#a5102f"/>
<circle cx="312.5" cy="216.1" r="1.33" fill="#a5102f"/>
<circle cx="318.5" cy="216.1" r="1.33" fill="#a5102f"/>
<circle cx="315.5" cy="225.03" r="1.33" fill="#a5102f"/>
<circle cx="315.5" cy="228.64" r="1.33" fill="#a5102f"/>
<circle cx="315.5" cy="237.76" r="1.33" fill="#a5102f"/>
<line x1="330.7" y1="209.07" x2="330.7" y2="240.61" stroke="#2a2a2a" stroke-width="0.9"/>
<line x1="328.1" y1="209.07" x2="333.3" y2="209.07" stroke="#2a2a2a" stroke-width="0.9"/>
<line x1="328.1" y1="240.61" x2="333.3" y2="240.61" stroke="#2a2a2a" stroke-width="0.9"/>
<circle cx="330.7" cy="195.01" r="1.33" fill="#1a4274"/>
<circle cx="330.7" cy="215.53" r="1.33" fill="#1a4274"/>
<circle cx="330.7" cy="221.42" r="1.33" fill="#1a4274"/>
<circle cx="330.7" cy="228.64" r="1.33" fill="#1a4274"/>
<circle cx="327.7" cy="236.43" r="1.33" fill="#1a4274"/>
<circle cx="333.7" cy="238.14" r="1.33" fill="#1a4274"/>
<circle cx="330.7" cy="240.61" r="1.33" fill="#1a4274"/>
<line x1="345.7" y1="214.77" x2="345.7" y2="238.14" stroke="#2a2a2a" stroke-width="0.9"/>
<line x1="343.1" y1="214.77" x2="348.3" y2="214.77" stroke="#2a2a2a" stroke-width="0.9"/>
<line x1="343.1" y1="238.14" x2="348.3" y2="238.14" stroke="#2a2a2a" stroke-width="0.9"/>
<circle cx="345.7" cy="201.85" r="1.33" fill="#a5102f"/>
<circle cx="345.7" cy="221.8" r="1.33" fill="#a5102f"/>
<circle cx="345.7" cy="231.11" r="1.33" fill="#a5102f"/>
<circle cx="342.7" cy="235.86" r="1.33" fill="#a5102f"/>
<circle cx="348.7" cy="235.86" r="1.33" fill="#a5102f"/>
<circle cx="345.7" cy="238.14" r="1.33" fill="#a5102f"/>
<line x1="360.8" y1="205.84" x2="360.8" y2="240.61" stroke="#2a2a2a" stroke-width="0.9"/>
<line x1="358.2" y1="205.84" x2="363.4" y2="205.84" stroke="#2a2a2a" stroke-width="0.9"/>
<line x1="358.2" y1="240.61" x2="363.4" y2="240.61" stroke="#2a2a2a" stroke-width="0.9"/>
<circle cx="360.8" cy="192.73" r="1.33" fill="#1a4274"/>
<circle cx="360.8" cy="197.48" r="1.33" fill="#1a4274"/>
<circle cx="360.8" cy="223.89" r="1.33" fill="#1a4274"/>
<circle cx="360.8" cy="231.11" r="1.33" fill="#1a4274"/>
<circle cx="357.8" cy="237" r="1.33" fill="#1a4274"/>
<circle cx="363.8" cy="237" r="1.33" fill="#1a4274"/>
<circle cx="360.8" cy="240.61" r="1.33" fill="#1a4274"/>
<line x1="244.9" y1="172" x2="244.9" y2="250.3" stroke="#1a1a1a" stroke-width="1.3"/>
<line x1="242.5" y1="250.3" x2="244.9" y2="250.3" stroke="#1a1a1a" stroke-width="0.9"/>
<text x="239.4" y="252.98" font-size="7.45" text-anchor="end" font-weight="normal" fill="#1a1a1a">0</text>
<line x1="242.5" y1="231.3" x2="244.9" y2="231.3" stroke="#1a1a1a" stroke-width="0.9"/>
<text x="239.4" y="233.98" font-size="7.45" text-anchor="end" font-weight="normal" fill="#1a1a1a">100</text>
<line x1="242.5" y1="212.3" x2="244.9" y2="212.3" stroke="#1a1a1a" stroke-width="0.9"/>
<text x="239.4" y="214.98" font-size="7.45" text-anchor="end" font-weight="normal" fill="#1a1a1a">200</text>
<line x1="242.5" y1="193.3" x2="244.9" y2="193.3" stroke="#1a1a1a" stroke-width="0.9"/>
<text x="239.4" y="195.98" font-size="7.45" text-anchor="end" font-weight="normal" fill="#1a1a1a">300</text>
<line x1="242.5" y1="174.3" x2="244.9" y2="174.3" stroke="#1a1a1a" stroke-width="0.9"/>
<text x="239.4" y="176.98" font-size="7.45" text-anchor="end" font-weight="normal" fill="#1a1a1a">400</text>
<line x1="244.35" y1="250.3" x2="369.5" y2="250.3" stroke="#1a1a1a" stroke-width="1.3"/>
<text x="249.1" y="260.4" font-size="7" text-anchor="start" font-weight="normal" fill="#1a1a1a" textLength="11.8" lengthAdjust="spacing">+/<tspan dy="-0.6">–</tspan></text>
<text x="264.6" y="260.4" font-size="7" text-anchor="start" font-weight="normal" fill="#1a1a1a" textLength="11.8" lengthAdjust="spacing"><tspan dy="-0.6">–</tspan><tspan dy="0.6">/</tspan><tspan dy="-0.6">–</tspan></text>
<text x="279.4" y="260.4" font-size="7" text-anchor="start" font-weight="normal" fill="#1a1a1a" textLength="11.8" lengthAdjust="spacing">+/<tspan dy="-0.6">–</tspan></text>
<text x="294.6" y="260.4" font-size="7" text-anchor="start" font-weight="normal" fill="#1a1a1a" textLength="11.8" lengthAdjust="spacing"><tspan dy="-0.6">–</tspan><tspan dy="0.6">/</tspan><tspan dy="-0.6">–</tspan></text>
<text x="309.6" y="260.4" font-size="7" text-anchor="start" font-weight="normal" fill="#1a1a1a" textLength="11.8" lengthAdjust="spacing">+/<tspan dy="-0.6">–</tspan></text>
<text x="324.8" y="260.4" font-size="7" text-anchor="start" font-weight="normal" fill="#1a1a1a" textLength="11.8" lengthAdjust="spacing"><tspan dy="-0.6">–</tspan><tspan dy="0.6">/</tspan><tspan dy="-0.6">–</tspan></text>
<text x="339.8" y="260.4" font-size="7" text-anchor="start" font-weight="normal" fill="#1a1a1a" textLength="11.8" lengthAdjust="spacing">+/<tspan dy="-0.6">–</tspan></text>
<text x="354.9" y="260.4" font-size="7" text-anchor="start" font-weight="normal" fill="#1a1a1a" textLength="11.8" lengthAdjust="spacing"><tspan dy="-0.6">–</tspan><tspan dy="0.6">/</tspan><tspan dy="-0.6">–</tspan></text>
<line x1="250.8" y1="264.4" x2="273.5" y2="264.4" stroke="#1a1a1a" stroke-width="0.9"/>
<text x="262.15" y="273.7" font-size="7.5" text-anchor="middle" font-weight="normal" fill="#1a1a1a">DN1</text>
<line x1="281" y1="264.4" x2="304" y2="264.4" stroke="#1a1a1a" stroke-width="0.9"/>
<text x="292.5" y="273.7" font-size="7.5" text-anchor="middle" font-weight="normal" fill="#1a1a1a">DN2</text>
<line x1="311" y1="264.4" x2="334.5" y2="264.4" stroke="#1a1a1a" stroke-width="0.9"/>
<text x="322.75" y="273.7" font-size="7.5" text-anchor="middle" font-weight="normal" fill="#1a1a1a">DN3</text>
<line x1="341" y1="264.4" x2="364.5" y2="264.4" stroke="#1a1a1a" stroke-width="0.9"/>
<text x="352.75" y="273.7" font-size="7.5" text-anchor="middle" font-weight="normal" fill="#1a1a1a">DN4</text>
<text x="385.5" y="155" font-size="11.3" text-anchor="start" font-weight="bold" fill="#000" class="pl">G</text>
<text x="433.6" y="166.8" font-size="7.4" text-anchor="start" font-weight="normal" fill="#1a1a1a" textLength="51.7" lengthAdjust="spacingAndGlyphs">Double Positive</text>
<text class="yt" transform="translate(395.8,238.9) rotate(-90)" x="0" y="0" font-size="8.7" text-anchor="start" fill="#1a1a1a" textLength="58.2" lengthAdjust="spacingAndGlyphs">Thymocytes (×100K)</text>
<rect x="427.5" y="240.78" width="11" height="9.31" fill="#df7466"/>
<rect x="444.7" y="238.2" width="11" height="11.9" fill="#7786b4"/>
<rect x="462.3" y="190.84" width="11" height="17.96" fill="#df7466"/>
<rect x="462.3" y="215.6" width="11" height="34.5" fill="#df7466"/>
<rect x="479.3" y="190.84" width="11" height="17.96" fill="#7786b4"/>
<rect x="479.3" y="215.6" width="11" height="34.5" fill="#7786b4"/>
<line x1="433" y1="232.85" x2="433" y2="247.51" stroke="#2a2a2a" stroke-width="0.9"/>
<line x1="430" y1="232.85" x2="436" y2="232.85" stroke="#2a2a2a" stroke-width="0.9"/>
<line x1="430" y1="247.51" x2="436" y2="247.51" stroke="#2a2a2a" stroke-width="0.9"/>
<line x1="450.2" y1="228.71" x2="450.2" y2="246.65" stroke="#2a2a2a" stroke-width="0.9"/>
<line x1="447.2" y1="228.71" x2="453.2" y2="228.71" stroke="#2a2a2a" stroke-width="0.9"/>
<line x1="447.2" y1="246.65" x2="453.2" y2="246.65" stroke="#2a2a2a" stroke-width="0.9"/>
<line x1="467.8" y1="183.31" x2="467.8" y2="200.93" stroke="#2a2a2a" stroke-width="0.9"/>
<line x1="464.8" y1="183.31" x2="470.8" y2="183.31" stroke="#2a2a2a" stroke-width="0.9"/>
<line x1="464.8" y1="200.93" x2="470.8" y2="200.93" stroke="#2a2a2a" stroke-width="0.9"/>
<line x1="484.8" y1="184.1" x2="484.8" y2="196.78" stroke="#2a2a2a" stroke-width="0.9"/>
<line x1="481.8" y1="184.1" x2="487.8" y2="184.1" stroke="#2a2a2a" stroke-width="0.9"/>
<line x1="481.8" y1="196.78" x2="487.8" y2="196.78" stroke="#2a2a2a" stroke-width="0.9"/>
<circle cx="433" cy="226.64" r="1.45" fill="#a5102f"/>
<circle cx="429.5" cy="237.33" r="1.45" fill="#a5102f"/>
<circle cx="433" cy="240.44" r="1.45" fill="#a5102f"/>
<circle cx="436.5" cy="243.72" r="1.45" fill="#a5102f"/>
<circle cx="430" cy="245.96" r="1.45" fill="#a5102f"/>
<circle cx="435" cy="247.34" r="1.45" fill="#a5102f"/>
<circle cx="450.2" cy="219.91" r="1.45" fill="#1a4274"/>
<circle cx="450.2" cy="229.92" r="1.45" fill="#1a4274"/>
<circle cx="446.7" cy="234.06" r="1.45" fill="#1a4274"/>
<circle cx="453.7" cy="238.37" r="1.45" fill="#1a4274"/>
<circle cx="448.2" cy="242.68" r="1.45" fill="#1a4274"/>
<circle cx="453.2" cy="245.96" r="1.45" fill="#1a4274"/>
<circle cx="446.7" cy="246.65" r="1.45" fill="#1a4274"/>
<rect x="466.35" y="177.31" width="2.9" height="2.9" fill="#a5102f"/>
<rect x="461.95" y="189.98" width="2.9" height="2.9" fill="#a5102f"/>
<rect x="470.65" y="189.98" width="2.9" height="2.9" fill="#a5102f"/>
<rect x="466.35" y="191.96" width="2.9" height="2.9" fill="#a5102f"/>
<rect x="463.95" y="202.06" width="2.9" height="2.9" fill="#a5102f"/>
<rect x="468.65" y="202.06" width="2.9" height="2.9" fill="#a5102f"/>
<rect x="484.75" y="177.31" width="2.9" height="2.9" fill="#1a4274"/>
<rect x="481.45" y="180.67" width="2.9" height="2.9" fill="#1a4274"/>
<rect x="483.45" y="186.02" width="2.9" height="2.9" fill="#1a4274"/>
<rect x="479.45" y="190.77" width="2.9" height="2.9" fill="#1a4274"/>
<rect x="486.85" y="190.77" width="2.9" height="2.9" fill="#1a4274"/>
<rect x="482.75" y="195.52" width="2.9" height="2.9" fill="#1a4274"/>
<rect x="482.75" y="204.24" width="2.9" height="2.9" fill="#1a4274"/>
<line x1="421.3" y1="173.1" x2="421.3" y2="208.8" stroke="#1a1a1a" stroke-width="1.3"/>
<line x1="421.3" y1="215.6" x2="421.3" y2="250.1" stroke="#1a1a1a" stroke-width="1.3"/>
<line x1="418.5" y1="208.8" x2="424" y2="208.8" stroke="#1a1a1a" stroke-width="1"/>
<line x1="418.5" y1="215.6" x2="424" y2="215.6" stroke="#1a1a1a" stroke-width="1"/>
<line x1="418.9" y1="194.4" x2="421.3" y2="194.4" stroke="#1a1a1a" stroke-width="0.9"/>
<text x="415.8" y="197.08" font-size="7.45" text-anchor="end" font-weight="normal" fill="#1a1a1a">100</text>
<line x1="418.9" y1="174.6" x2="421.3" y2="174.6" stroke="#1a1a1a" stroke-width="0.9"/>
<text x="415.8" y="177.28" font-size="7.45" text-anchor="end" font-weight="normal" fill="#1a1a1a">200</text>
<line x1="418.9" y1="250.1" x2="421.3" y2="250.1" stroke="#1a1a1a" stroke-width="0.9"/>
<text x="415.8" y="252.78" font-size="7.45" text-anchor="end" font-weight="normal" fill="#1a1a1a">0</text>
<line x1="418.9" y1="232.85" x2="421.3" y2="232.85" stroke="#1a1a1a" stroke-width="0.9"/>
<text x="415.8" y="235.53" font-size="7.45" text-anchor="end" font-weight="normal" fill="#1a1a1a">10</text>
<line x1="418.9" y1="215.6" x2="421.3" y2="215.6" stroke="#1a1a1a" stroke-width="0.9"/>
<text x="415.8" y="218.28" font-size="7.45" text-anchor="end" font-weight="normal" fill="#1a1a1a">20</text>
<line x1="420.75" y1="250.1" x2="496.3" y2="250.1" stroke="#1a1a1a" stroke-width="1.3"/>
<line x1="433" y1="250.1" x2="433" y2="253" stroke="#1a1a1a" stroke-width="0.9"/>
<text x="427.1" y="263.2" font-size="7" text-anchor="start" font-weight="normal" fill="#1a1a1a" textLength="11.8" lengthAdjust="spacing">+/<tspan dy="-0.6">–</tspan></text>
<line x1="450.2" y1="250.1" x2="450.2" y2="253" stroke="#1a1a1a" stroke-width="0.9"/>
<text x="444.3" y="263.2" font-size="7" text-anchor="start" font-weight="normal" fill="#1a1a1a" textLength="11.8" lengthAdjust="spacing"><tspan dy="-0.6">–</tspan><tspan dy="0.6">/</tspan><tspan dy="-0.6">–</tspan></text>
<line x1="467.8" y1="250.1" x2="467.8" y2="253" stroke="#1a1a1a" stroke-width="0.9"/>
<text x="461.9" y="263.2" font-size="7" text-anchor="start" font-weight="normal" fill="#1a1a1a" textLength="11.8" lengthAdjust="spacing">+/<tspan dy="-0.6">–</tspan></text>
<line x1="484.8" y1="250.1" x2="484.8" y2="253" stroke="#1a1a1a" stroke-width="0.9"/>
<text x="478.9" y="263.2" font-size="7" text-anchor="start" font-weight="normal" fill="#1a1a1a" textLength="11.8" lengthAdjust="spacing"><tspan dy="-0.6">–</tspan><tspan dy="0.6">/</tspan><tspan dy="-0.6">–</tspan></text>
<line x1="426.5" y1="267.8" x2="456.2" y2="267.8" stroke="#1a1a1a" stroke-width="0.9"/>
<text x="441.35" y="277.3" font-size="7.5" text-anchor="middle" font-weight="normal" fill="#1a1a1a">P0</text>
<line x1="461.8" y1="267.8" x2="491" y2="267.8" stroke="#1a1a1a" stroke-width="0.9"/>
<text x="476.4" y="277.3" font-size="7.5" text-anchor="middle" font-weight="normal" fill="#1a1a1a">P14</text>
<text x="33.3" y="303.2" font-size="11.3" text-anchor="start" font-weight="bold" fill="#000" class="pl">H</text>
<text class="yt" transform="translate(42.9,380.9) rotate(-90)" x="0" y="0" font-size="8.7" text-anchor="start" fill="#1a1a1a" textLength="63" lengthAdjust="spacingAndGlyphs">Spleen T-cell (×1000)</text>
<rect x="81.3" y="368.59" width="11.4" height="20.61" fill="#df7466"/>
<rect x="99.4" y="363.17" width="11.4" height="26.03" fill="#7786b4"/>
<rect x="117.6" y="331.79" width="11.4" height="14.31" fill="#df7466"/>
<rect x="117.6" y="353.9" width="11.4" height="35.3" fill="#df7466"/>
<rect x="135.6" y="328.4" width="11.4" height="17.7" fill="#7786b4"/>
<rect x="135.6" y="353.9" width="11.4" height="35.3" fill="#7786b4"/>
<line x1="87" y1="360.78" x2="87" y2="376.4" stroke="#2a2a2a" stroke-width="0.9"/>
<line x1="84.25" y1="360.78" x2="89.75" y2="360.78" stroke="#2a2a2a" stroke-width="0.9"/>
<line x1="84.25" y1="376.4" x2="89.75" y2="376.4" stroke="#2a2a2a" stroke-width="0.9"/>
<line x1="105.1" y1="357.52" x2="105.1" y2="369.92" stroke="#2a2a2a" stroke-width="0.9"/>
<line x1="102.35" y1="357.52" x2="107.85" y2="357.52" stroke="#2a2a2a" stroke-width="0.9"/>
<line x1="102.35" y1="369.92" x2="107.85" y2="369.92" stroke="#2a2a2a" stroke-width="0.9"/>
<line x1="123.3" y1="327.99" x2="123.3" y2="341.69" stroke="#2a2a2a" stroke-width="0.9"/>
<line x1="120.55" y1="327.99" x2="126.05" y2="327.99" stroke="#2a2a2a" stroke-width="0.9"/>
<line x1="120.55" y1="341.69" x2="126.05" y2="341.69" stroke="#2a2a2a" stroke-width="0.9"/>
<line x1="141.3" y1="320.91" x2="141.3" y2="335.49" stroke="#2a2a2a" stroke-width="0.9"/>
<line x1="138.55" y1="320.91" x2="144.05" y2="320.91" stroke="#2a2a2a" stroke-width="0.9"/>
<line x1="138.55" y1="335.49" x2="144.05" y2="335.49" stroke="#2a2a2a" stroke-width="0.9"/>
<circle cx="81.7" cy="357.92" r="1.45" fill="#a5102f"/>
<circle cx="91.2" cy="357.92" r="1.45" fill="#a5102f"/>
<circle cx="84.6" cy="360.3" r="1.45" fill="#a5102f"/>
<circle cx="88.3" cy="360.3" r="1.45" fill="#a5102f"/>
<circle cx="87.5" cy="367.8" r="1.45" fill="#a5102f"/>
<circle cx="85" cy="370.31" r="1.45" fill="#a5102f"/>
<circle cx="91.2" cy="370.31" r="1.45" fill="#a5102f"/>
<circle cx="87.1" cy="371.9" r="1.45" fill="#a5102f"/>
<circle cx="84.6" cy="374.82" r="1.45" fill="#a5102f"/>
<circle cx="87.9" cy="377.29" r="1.45" fill="#a5102f"/>
<circle cx="86.3" cy="381.48" r="1.45" fill="#a5102f"/>
<polygon points="104.9,352.87 103.16,356 106.64,356" fill="#1a4274"/>
<polygon points="104.9,358.56 103.16,361.69 106.64,361.69" fill="#1a4274"/>
<polygon points="104.9,361.96 103.16,365.09 106.64,365.09" fill="#1a4274"/>
<polygon points="100.4,368.18 98.66,371.31 102.14,371.31" fill="#1a4274"/>
<polygon points="109.5,368.18 107.76,371.31 111.24,371.31" fill="#1a4274"/>
<polygon points="104.9,367.82 103.16,370.96 106.64,370.96" fill="#1a4274"/>
<rect x="117.15" y="326.95" width="2.9" height="2.9" fill="#a5102f"/>
<rect x="125.65" y="323.67" width="2.9" height="2.9" fill="#a5102f"/>
<rect x="117.15" y="333.56" width="2.9" height="2.9" fill="#a5102f"/>
<rect x="125.65" y="331.76" width="2.9" height="2.9" fill="#a5102f"/>
<rect x="117.15" y="336.98" width="2.9" height="2.9" fill="#a5102f"/>
<rect x="117.15" y="341.15" width="2.9" height="2.9" fill="#a5102f"/>
<rect x="125.65" y="340.24" width="2.9" height="2.9" fill="#a5102f"/>
<rect x="121.85" y="329.71" width="2.9" height="2.9" fill="#a5102f"/>
<rect x="135.15" y="318.04" width="2.9" height="2.9" fill="#1a4274"/>
<rect x="144.15" y="315.66" width="2.9" height="2.9" fill="#1a4274"/>
<rect x="135.15" y="325.06" width="2.9" height="2.9" fill="#1a4274"/>
<rect x="135.15" y="328.44" width="2.9" height="2.9" fill="#1a4274"/>
<rect x="144.15" y="328.44" width="2.9" height="2.9" fill="#1a4274"/>
<rect x="139.85" y="332.87" width="2.9" height="2.9" fill="#1a4274"/>
<rect x="139.85" y="339.26" width="2.9" height="2.9" fill="#1a4274"/>
<line x1="74.2" y1="308.3" x2="74.2" y2="346.1" stroke="#1a1a1a" stroke-width="1.3"/>
<line x1="74.2" y1="353.9" x2="74.2" y2="389.2" stroke="#1a1a1a" stroke-width="1.3"/>
<line x1="71.4" y1="346.1" x2="76.9" y2="346.1" stroke="#1a1a1a" stroke-width="1"/>
<line x1="71.4" y1="353.9" x2="76.9" y2="353.9" stroke="#1a1a1a" stroke-width="1"/>
<line x1="71.8" y1="335.9" x2="74.2" y2="335.9" stroke="#1a1a1a" stroke-width="0.9"/>
<text x="68.7" y="338.58" font-size="7.45" text-anchor="end" font-weight="normal" fill="#1a1a1a">4</text>
<line x1="71.8" y1="323.25" x2="74.2" y2="323.25" stroke="#1a1a1a" stroke-width="0.9"/>
<text x="68.7" y="325.93" font-size="7.45" text-anchor="end" font-weight="normal" fill="#1a1a1a">8</text>
<line x1="71.8" y1="310.6" x2="74.2" y2="310.6" stroke="#1a1a1a" stroke-width="0.9"/>
<text x="68.7" y="313.28" font-size="7.45" text-anchor="end" font-weight="normal" fill="#1a1a1a">12</text>
<line x1="71.8" y1="389.2" x2="74.2" y2="389.2" stroke="#1a1a1a" stroke-width="0.9"/>
<text x="68.7" y="391.88" font-size="7.45" text-anchor="end" font-weight="normal" fill="#1a1a1a">0.000</text>
<line x1="71.8" y1="371.55" x2="74.2" y2="371.55" stroke="#1a1a1a" stroke-width="0.9"/>
<text x="68.7" y="374.23" font-size="7.45" text-anchor="end" font-weight="normal" fill="#1a1a1a">0.004</text>
<line x1="71.8" y1="353.9" x2="74.2" y2="353.9" stroke="#1a1a1a" stroke-width="0.9"/>
<text x="68.7" y="356.58" font-size="7.45" text-anchor="end" font-weight="normal" fill="#1a1a1a">0.008</text>
<line x1="73.65" y1="389.2" x2="153.1" y2="389.2" stroke="#1a1a1a" stroke-width="1.3"/>
<line x1="87" y1="389.2" x2="87" y2="392.1" stroke="#1a1a1a" stroke-width="0.9"/>
<text x="81.1" y="402.2" font-size="7" text-anchor="start" font-weight="normal" fill="#1a1a1a" textLength="11.8" lengthAdjust="spacing">+/<tspan dy="-0.6">–</tspan></text>
<line x1="105.1" y1="389.2" x2="105.1" y2="392.1" stroke="#1a1a1a" stroke-width="0.9"/>
<text x="99.2" y="402.2" font-size="7" text-anchor="start" font-weight="normal" fill="#1a1a1a" textLength="11.8" lengthAdjust="spacing"><tspan dy="-0.6">–</tspan><tspan dy="0.6">/</tspan><tspan dy="-0.6">–</tspan></text>
<line x1="123.3" y1="389.2" x2="123.3" y2="392.1" stroke="#1a1a1a" stroke-width="0.9"/>
<text x="117.4" y="402.2" font-size="7" text-anchor="start" font-weight="normal" fill="#1a1a1a" textLength="11.8" lengthAdjust="spacing">+/<tspan dy="-0.6">–</tspan></text>
<line x1="141.3" y1="389.2" x2="141.3" y2="392.1" stroke="#1a1a1a" stroke-width="0.9"/>
<text x="135.4" y="402.2" font-size="7" text-anchor="start" font-weight="normal" fill="#1a1a1a" textLength="11.8" lengthAdjust="spacing"><tspan dy="-0.6">–</tspan><tspan dy="0.6">/</tspan><tspan dy="-0.6">–</tspan></text>
<line x1="77" y1="406.3" x2="109.1" y2="406.3" stroke="#1a1a1a" stroke-width="0.9"/>
<text x="93.05" y="416.3" font-size="7.5" text-anchor="middle" font-weight="normal" fill="#1a1a1a">P0</text>
<line x1="115" y1="406.3" x2="146.8" y2="406.3" stroke="#1a1a1a" stroke-width="0.9"/>
<text x="130.9" y="416.3" font-size="7.5" text-anchor="middle" font-weight="normal" fill="#1a1a1a">P14</text>
<text x="166" y="303" font-size="11.3" text-anchor="start" font-weight="bold" fill="#000" class="pl">I</text>
<text class="yt" transform="translate(178.8,368.6) rotate(-90)" x="0" y="0" font-size="8.7" text-anchor="start" fill="#1a1a1a" textLength="38.1" lengthAdjust="spacingAndGlyphs">WBC (×1000)</text>
<rect x="204.2" y="342.98" width="9.6" height="46.32" fill="#df7466"/>
<rect x="219.2" y="344.14" width="9.6" height="45.16" fill="#7786b4"/>
<line x1="209" y1="324.45" x2="209" y2="361.51" stroke="#3a1214" stroke-width="1"/>
<line x1="206.25" y1="324.45" x2="211.75" y2="324.45" stroke="#3a1214" stroke-width="1"/>
<line x1="206.25" y1="361.51" x2="211.75" y2="361.51" stroke="#3a1214" stroke-width="1"/>
<line x1="224" y1="329.08" x2="224" y2="358.42" stroke="#142848" stroke-width="1"/>
<line x1="221.25" y1="329.08" x2="226.75" y2="329.08" stroke="#142848" stroke-width="1"/>
<line x1="221.25" y1="358.42" x2="226.75" y2="358.42" stroke="#142848" stroke-width="1"/>
<circle cx="209" cy="338.35" r="0.7" fill="#8a1a1a"/>
<circle cx="209.5" cy="342.98" r="0.7" fill="#8a1a1a"/>
<circle cx="209" cy="375.02" r="0.7" fill="#8a1a1a"/>
<circle cx="208" cy="326" r="0.7" fill="#8a1a1a"/>
<circle cx="224" cy="330.63" r="0.7" fill="#1a3560"/>
<circle cx="223.5" cy="335.26" r="0.7" fill="#1a3560"/>
<circle cx="224.5" cy="329.08" r="0.7" fill="#1a3560"/>
<circle cx="224" cy="363.82" r="0.7" fill="#1a3560"/>
<line x1="199.5" y1="309.9" x2="199.5" y2="389.3" stroke="#1a1a1a" stroke-width="1.3"/>
<line x1="197.1" y1="389.3" x2="199.5" y2="389.3" stroke="#1a1a1a" stroke-width="0.9"/>
<text x="194" y="391.98" font-size="7.45" text-anchor="end" font-weight="normal" fill="#1a1a1a">0</text>
<line x1="197.1" y1="373.86" x2="199.5" y2="373.86" stroke="#1a1a1a" stroke-width="0.9"/>
<text x="194" y="376.54" font-size="7.45" text-anchor="end" font-weight="normal" fill="#1a1a1a">2</text>
<line x1="197.1" y1="358.42" x2="199.5" y2="358.42" stroke="#1a1a1a" stroke-width="0.9"/>
<text x="194" y="361.1" font-size="7.45" text-anchor="end" font-weight="normal" fill="#1a1a1a">4</text>
<line x1="197.1" y1="342.98" x2="199.5" y2="342.98" stroke="#1a1a1a" stroke-width="0.9"/>
<text x="194" y="345.66" font-size="7.45" text-anchor="end" font-weight="normal" fill="#1a1a1a">6</text>
<line x1="197.1" y1="327.54" x2="199.5" y2="327.54" stroke="#1a1a1a" stroke-width="0.9"/>
<text x="194" y="330.22" font-size="7.45" text-anchor="end" font-weight="normal" fill="#1a1a1a">8</text>
<line x1="197.1" y1="312.1" x2="199.5" y2="312.1" stroke="#1a1a1a" stroke-width="0.9"/>
<text x="194" y="314.78" font-size="7.45" text-anchor="end" font-weight="normal" fill="#1a1a1a">10</text>
<line x1="198.95" y1="389.3" x2="234" y2="389.3" stroke="#1a1a1a" stroke-width="1.3"/>
<line x1="209" y1="389.3" x2="209" y2="392.2" stroke="#1a1a1a" stroke-width="0.9"/>
<text x="203.1" y="402.3" font-size="7" text-anchor="start" font-weight="normal" fill="#1a1a1a" textLength="11.8" lengthAdjust="spacing">+/<tspan dy="-0.6">–</tspan></text>
<line x1="224" y1="389.3" x2="224" y2="392.2" stroke="#1a1a1a" stroke-width="0.9"/>
<text x="218.1" y="402.3" font-size="7" text-anchor="start" font-weight="normal" fill="#1a1a1a" textLength="11.8" lengthAdjust="spacing"><tspan dy="-0.6">–</tspan><tspan dy="0.6">/</tspan><tspan dy="-0.6">–</tspan></text>
<text x="248.6" y="303" font-size="11.3" text-anchor="start" font-weight="bold" fill="#000" class="pl">J</text>
<text class="yt" transform="translate(260.3,367.9) rotate(-90)" x="0" y="0" font-size="8.7" text-anchor="start" fill="#1a1a1a" textLength="36.7" lengthAdjust="spacingAndGlyphs">ANC (×1000)</text>
<rect x="281.9" y="356.11" width="9.8" height="33.19" fill="#df7466"/>
<rect x="297" y="355.07" width="9.8" height="34.23" fill="#7786b4"/>
<line x1="286.8" y1="339.26" x2="286.8" y2="372.45" stroke="#3a1214" stroke-width="1"/>
<line x1="284.05" y1="339.26" x2="289.55" y2="339.26" stroke="#3a1214" stroke-width="1"/>
<line x1="284.05" y1="372.45" x2="289.55" y2="372.45" stroke="#3a1214" stroke-width="1"/>
<line x1="301.9" y1="339.26" x2="301.9" y2="370.63" stroke="#142848" stroke-width="1"/>
<line x1="299.15" y1="339.26" x2="304.65" y2="339.26" stroke="#142848" stroke-width="1"/>
<line x1="299.15" y1="370.63" x2="304.65" y2="370.63" stroke="#142848" stroke-width="1"/>
<circle cx="286.8" cy="380.22" r="0.7" fill="#8a1a1a"/>
<circle cx="286.8" cy="342.63" r="0.7" fill="#8a1a1a"/>
<circle cx="301.2" cy="324.48" r="0.7" fill="#1a3560"/>
<circle cx="298.6" cy="351.44" r="0.7" fill="#1a3560"/>
<circle cx="301.6" cy="351.44" r="0.7" fill="#1a3560"/>
<circle cx="304.8" cy="351.44" r="0.7" fill="#1a3560"/>
<circle cx="301.2" cy="377.11" r="0.7" fill="#1a3560"/>
<line x1="276.9" y1="309.9" x2="276.9" y2="389.3" stroke="#1a1a1a" stroke-width="1.3"/>
<line x1="274.5" y1="389.3" x2="276.9" y2="389.3" stroke="#1a1a1a" stroke-width="0.9"/>
<text x="271.4" y="391.98" font-size="7.45" text-anchor="end" font-weight="normal" fill="#1a1a1a">0</text>
<line x1="274.5" y1="363.37" x2="276.9" y2="363.37" stroke="#1a1a1a" stroke-width="0.9"/>
<text x="271.4" y="366.05" font-size="7.45" text-anchor="end" font-weight="normal" fill="#1a1a1a">1</text>
<line x1="274.5" y1="337.44" x2="276.9" y2="337.44" stroke="#1a1a1a" stroke-width="0.9"/>
<text x="271.4" y="340.12" font-size="7.45" text-anchor="end" font-weight="normal" fill="#1a1a1a">2</text>
<line x1="274.5" y1="311.51" x2="276.9" y2="311.51" stroke="#1a1a1a" stroke-width="0.9"/>
<text x="271.4" y="314.19" font-size="7.45" text-anchor="end" font-weight="normal" fill="#1a1a1a">3</text>
<line x1="276.35" y1="389.3" x2="312" y2="389.3" stroke="#1a1a1a" stroke-width="1.3"/>
<line x1="286.8" y1="389.3" x2="286.8" y2="392.2" stroke="#1a1a1a" stroke-width="0.9"/>
<text x="280.9" y="402.3" font-size="7" text-anchor="start" font-weight="normal" fill="#1a1a1a" textLength="11.8" lengthAdjust="spacing">+/<tspan dy="-0.6">–</tspan></text>
<line x1="301.9" y1="389.3" x2="301.9" y2="392.2" stroke="#1a1a1a" stroke-width="0.9"/>
<text x="296" y="402.3" font-size="7" text-anchor="start" font-weight="normal" fill="#1a1a1a" textLength="11.8" lengthAdjust="spacing"><tspan dy="-0.6">–</tspan><tspan dy="0.6">/</tspan><tspan dy="-0.6">–</tspan></text>
<text x="326.6" y="303" font-size="11.3" text-anchor="start" font-weight="bold" fill="#000" class="pl">K</text>
<text class="yt" transform="translate(342.3,365.6) rotate(-90)" x="0" y="0" font-size="8.7" text-anchor="start" fill="#1a1a1a" textLength="32.6" lengthAdjust="spacingAndGlyphs">RBC (×1M)</text>
<rect x="363.95" y="334.12" width="9.5" height="55.19" fill="#df7466"/>
<rect x="378.85" y="343.18" width="9.5" height="46.12" fill="#7786b4"/>
<line x1="368.7" y1="329.83" x2="368.7" y2="336.65" stroke="#3a1214" stroke-width="1"/>
<line x1="365.95" y1="329.83" x2="371.45" y2="329.83" stroke="#3a1214" stroke-width="1"/>
<line x1="365.95" y1="336.65" x2="371.45" y2="336.65" stroke="#3a1214" stroke-width="1"/>
<line x1="383.6" y1="331.58" x2="383.6" y2="354" stroke="#142848" stroke-width="1"/>
<line x1="380.85" y1="331.58" x2="386.35" y2="331.58" stroke="#142848" stroke-width="1"/>
<line x1="380.85" y1="354" x2="386.35" y2="354" stroke="#142848" stroke-width="1"/>
<circle cx="367.2" cy="329.83" r="0.7" fill="#8a1a1a"/>
<circle cx="370.2" cy="330.8" r="0.7" fill="#8a1a1a"/>
<circle cx="366.9" cy="332.75" r="0.7" fill="#8a1a1a"/>
<circle cx="370.5" cy="333.24" r="0.7" fill="#8a1a1a"/>
<circle cx="368.7" cy="334.7" r="0.7" fill="#8a1a1a"/>
<circle cx="367.5" cy="336.16" r="0.7" fill="#8a1a1a"/>
<circle cx="383.6" cy="333.34" r="0.7" fill="#1a3560"/>
<circle cx="383.6" cy="335.77" r="0.7" fill="#1a3560"/>
<circle cx="383.6" cy="338.21" r="0.7" fill="#1a3560"/>
<circle cx="383.6" cy="340.75" r="0.7" fill="#1a3560"/>
<circle cx="383.6" cy="365.61" r="0.7" fill="#1a3560"/>
<line x1="358.7" y1="309.9" x2="358.7" y2="389.3" stroke="#1a1a1a" stroke-width="1.3"/>
<line x1="356.3" y1="389.3" x2="358.7" y2="389.3" stroke="#1a1a1a" stroke-width="0.9"/>
<text x="353.2" y="391.98" font-size="7.45" text-anchor="end" font-weight="normal" fill="#1a1a1a">0</text>
<line x1="356.3" y1="369.8" x2="358.7" y2="369.8" stroke="#1a1a1a" stroke-width="0.9"/>
<text x="353.2" y="372.48" font-size="7.45" text-anchor="end" font-weight="normal" fill="#1a1a1a">2</text>
<line x1="356.3" y1="350.3" x2="358.7" y2="350.3" stroke="#1a1a1a" stroke-width="0.9"/>
<text x="353.2" y="352.98" font-size="7.45" text-anchor="end" font-weight="normal" fill="#1a1a1a">4</text>
<line x1="356.3" y1="330.8" x2="358.7" y2="330.8" stroke="#1a1a1a" stroke-width="0.9"/>
<text x="353.2" y="333.48" font-size="7.45" text-anchor="end" font-weight="normal" fill="#1a1a1a">6</text>
<line x1="356.3" y1="311.3" x2="358.7" y2="311.3" stroke="#1a1a1a" stroke-width="0.9"/>
<text x="353.2" y="313.98" font-size="7.45" text-anchor="end" font-weight="normal" fill="#1a1a1a">8</text>
<line x1="358.15" y1="389.3" x2="393.3" y2="389.3" stroke="#1a1a1a" stroke-width="1.3"/>
<line x1="368.7" y1="389.3" x2="368.7" y2="392.2" stroke="#1a1a1a" stroke-width="0.9"/>
<text x="362.8" y="402.3" font-size="7" text-anchor="start" font-weight="normal" fill="#1a1a1a" textLength="11.8" lengthAdjust="spacing">+/<tspan dy="-0.6">–</tspan></text>
<line x1="383.6" y1="389.3" x2="383.6" y2="392.2" stroke="#1a1a1a" stroke-width="0.9"/>
<text x="377.7" y="402.3" font-size="7" text-anchor="start" font-weight="normal" fill="#1a1a1a" textLength="11.8" lengthAdjust="spacing"><tspan dy="-0.6">–</tspan><tspan dy="0.6">/</tspan><tspan dy="-0.6">–</tspan></text>
<text x="408.2" y="303" font-size="11.3" text-anchor="start" font-weight="bold" fill="#000" class="pl">L</text>
<text class="yt" transform="translate(421.6,371.8) rotate(-90)" x="0" y="0" font-size="8.7" text-anchor="start" fill="#1a1a1a" textLength="45.1" lengthAdjust="spacingAndGlyphs">Platelets (×1M)</text>
<rect x="456.9" y="334.13" width="9.6" height="55.27" fill="#df7466"/>
<rect x="471.8" y="345.73" width="9.6" height="43.67" fill="#7786b4"/>
<line x1="461.7" y1="318.43" x2="461.7" y2="348.22" stroke="#3a1214" stroke-width="1"/>
<line x1="458.95" y1="318.43" x2="464.45" y2="318.43" stroke="#3a1214" stroke-width="1"/>
<line x1="458.95" y1="348.22" x2="464.45" y2="348.22" stroke="#3a1214" stroke-width="1"/>
<line x1="476.6" y1="324.65" x2="476.6" y2="366.4" stroke="#142848" stroke-width="1"/>
<line x1="473.85" y1="324.65" x2="479.35" y2="324.65" stroke="#142848" stroke-width="1"/>
<line x1="473.85" y1="366.4" x2="479.35" y2="366.4" stroke="#142848" stroke-width="1"/>
<circle cx="461.7" cy="324.13" r="0.7" fill="#8a1a1a"/>
<circle cx="461.7" cy="349.82" r="0.7" fill="#8a1a1a"/>
<circle cx="461.7" cy="353.24" r="0.7" fill="#8a1a1a"/>
<circle cx="460.7" cy="320.51" r="0.7" fill="#8a1a1a"/>
<circle cx="474.6" cy="322.58" r="0.7" fill="#1a3560"/>
<circle cx="477.9" cy="321.7" r="0.7" fill="#1a3560"/>
<circle cx="476.6" cy="325.01" r="0.7" fill="#1a3560"/>
<circle cx="475.6" cy="362.31" r="0.7" fill="#1a3560"/>
<circle cx="478.1" cy="362.31" r="0.7" fill="#1a3560"/>
<circle cx="476.6" cy="364.79" r="0.7" fill="#1a3560"/>
<circle cx="476.6" cy="373.91" r="0.7" fill="#1a3560"/>
<line x1="451.7" y1="309.9" x2="451.7" y2="389.4" stroke="#1a1a1a" stroke-width="1.3"/>
<line x1="449.3" y1="389.4" x2="451.7" y2="389.4" stroke="#1a1a1a" stroke-width="0.9"/>
<text x="446.2" y="392.08" font-size="7.45" text-anchor="end" font-weight="normal" fill="#1a1a1a">0</text>
<line x1="449.3" y1="363.5" x2="451.7" y2="363.5" stroke="#1a1a1a" stroke-width="0.9"/>
<text x="446.2" y="366.18" font-size="7.45" text-anchor="end" font-weight="normal" fill="#1a1a1a">500</text>
<line x1="449.3" y1="337.6" x2="451.7" y2="337.6" stroke="#1a1a1a" stroke-width="0.9"/>
<text x="446.2" y="340.28" font-size="7.45" text-anchor="end" font-weight="normal" fill="#1a1a1a">1000</text>
<line x1="449.3" y1="311.7" x2="451.7" y2="311.7" stroke="#1a1a1a" stroke-width="0.9"/>
<text x="446.2" y="314.38" font-size="7.45" text-anchor="end" font-weight="normal" fill="#1a1a1a">1500</text>
<line x1="451.15" y1="389.4" x2="486.3" y2="389.4" stroke="#1a1a1a" stroke-width="1.3"/>
<line x1="461.7" y1="389.4" x2="461.7" y2="392.3" stroke="#1a1a1a" stroke-width="0.9"/>
<text x="455.8" y="402.3" font-size="7" text-anchor="start" font-weight="normal" fill="#1a1a1a" textLength="11.8" lengthAdjust="spacing">+/<tspan dy="-0.6">–</tspan></text>
<line x1="476.6" y1="389.4" x2="476.6" y2="392.3" stroke="#1a1a1a" stroke-width="0.9"/>
<text x="470.7" y="402.3" font-size="7" text-anchor="start" font-weight="normal" fill="#1a1a1a" textLength="11.8" lengthAdjust="spacing"><tspan dy="-0.6">–</tspan><tspan dy="0.6">/</tspan><tspan dy="-0.6">–</tspan></text>
<rect x="0.5" y="0.5" width="519" height="422" fill="none" stroke="#575757" stroke-width="1"/>
</svg></div></body></html>
